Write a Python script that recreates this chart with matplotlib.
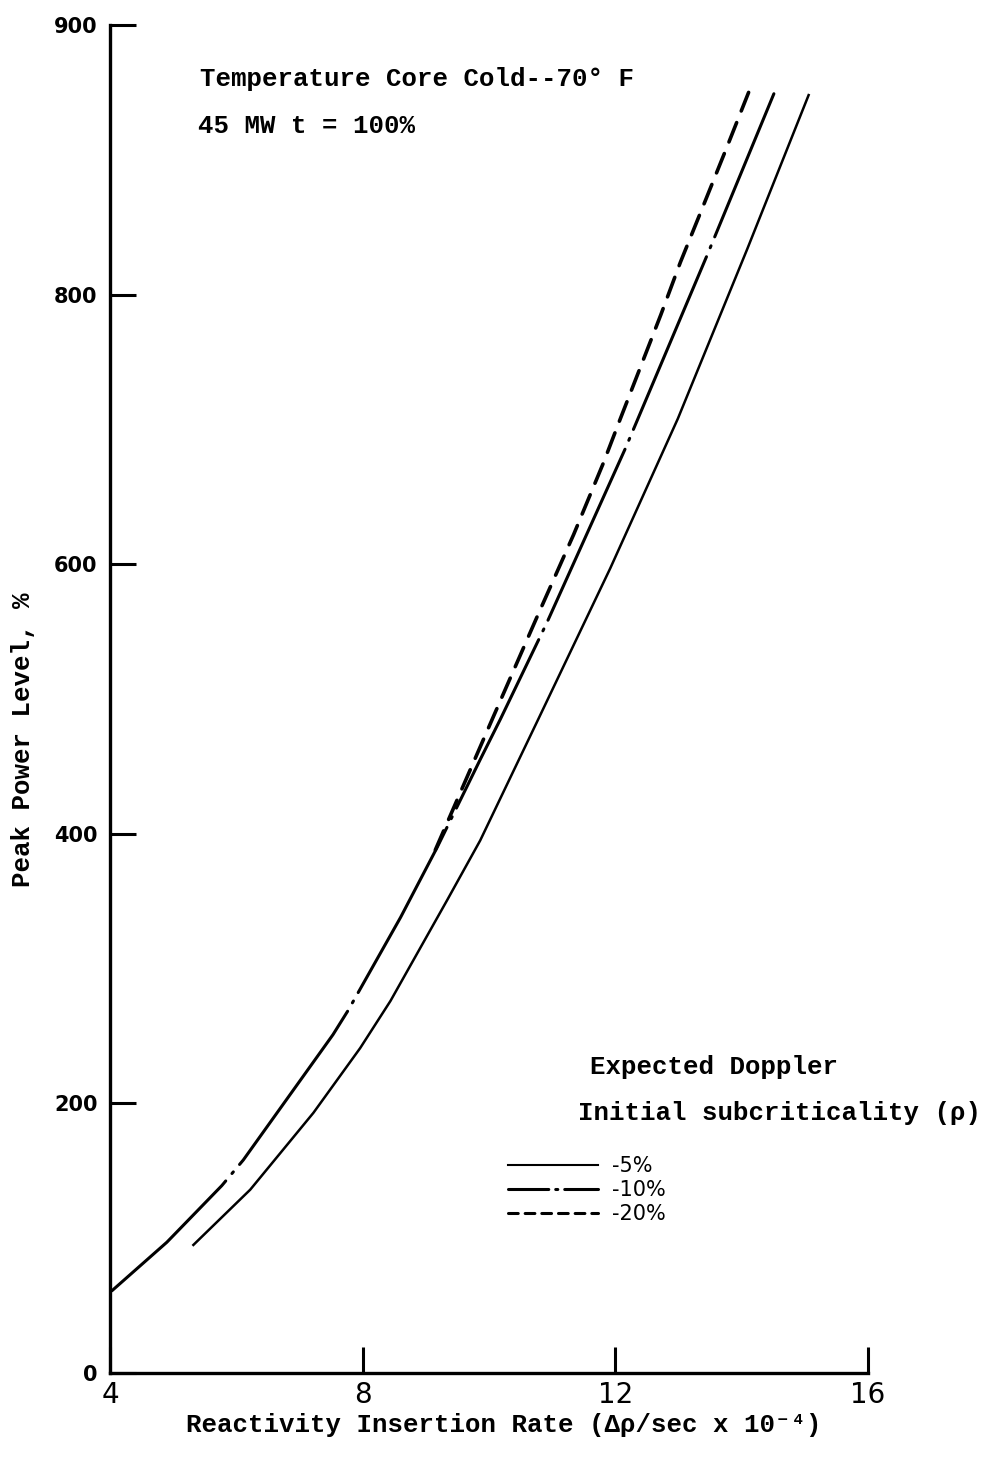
import matplotlib
matplotlib.use("Agg")
import matplotlib.pyplot as plt
from matplotlib.lines import Line2D

# odczyty z wykresu (x: szybkosc wprowadzania reaktywnosci, y: moc szczytowa %)
x_5 = [5.32, 6.22, 7.22, 7.96, 8.44, 9.34, 9.86, 10.78, 11.92, 12.99, 14.09, 15.06]
y_5 = [95, 136, 193, 241, 276, 351, 395, 485, 597, 708, 834, 948]

x_10 = [4.03, 4.90, 5.77, 6.11, 7.53, 7.77, 8.60, 9.18, 9.86, 10.18, 10.92, 12.16, 13.46, 14.51]
y_10 = [61, 97, 139, 158, 251, 269, 338, 390, 455, 485, 557, 686, 830, 949]

x_20 = [9.15, 10.07, 10.78, 11.34, 11.81, 12.08, 12.72, 13.03, 13.35, 13.78, 14.11]
y_20 = [388, 487, 563, 622, 675, 708, 785, 824, 861, 911, 950]

x_ticks = [4, 8, 12, 16]
y_ticks = [0, 200, 400, 600, 800, 1000]
y_ticklabels = ["0", "200", "400", "600", "800", "900"]

labels = ["-5%", "-10%", "-20%"]

plt.rcParams["lines.scale_dashes"] = False
typewriter = ["Liberation Mono", "DejaVu Sans Mono"]
tw_size = 18.5

fig = plt.figure(figsize=(9.87, 14.57), dpi=100)
ax = fig.add_axes([110 / 987, 84 / 1457, 758 / 987, 1348 / 1457])

ax.plot(x_5, y_5, color="black", lw=1.8)
ax.plot(x_10, y_10, color="black", lw=2.2, linestyle=(21, (135, 7, 1.5, 7)),
        dash_capstyle="round")
ax.plot(x_20, y_20, color="black", lw=2.6, dashes=(15, 9),
        dash_capstyle="round")

ax.set_xlim(4, 16)
ax.set_ylim(0, 1000)
ax.spines["top"].set_visible(False)
ax.spines["right"].set_visible(False)
ax.spines["left"].set_linewidth(2.4)
ax.spines["bottom"].set_linewidth(2.4)

ax.set_xticks(x_ticks)
ax.set_xticklabels([str(t) for t in x_ticks],
                   family=["Liberation Sans Narrow", "DejaVu Sans"], fontsize=20)
ax.set_yticks(y_ticks)
ax.set_yticklabels(y_ticklabels, family="DejaVu Sans", fontsize=15, fontweight="bold")
ax.tick_params(axis="both", direction="in", length=19, width=2.2)
ax.tick_params(axis="x", pad=6)
ax.tick_params(axis="y", pad=9)

ax.set_xlabel("Reactivity Insertion Rate (Δρ/sec x 10⁻⁴)", family=typewriter,
              fontsize=tw_size, fontweight="bold")
ax.xaxis.set_label_coords(0.52, -0.03)
ax.set_ylabel("Peak Power Level, %", family=typewriter, fontsize=tw_size,
              fontweight="bold")
ax.yaxis.set_label_coords(-0.099, 0.47)

ax.text(5.42, 955, "Temperature Core Cold--70° F", family=typewriter,
        fontsize=tw_size, fontweight="bold", va="baseline")
ax.text(5.40, 920, "45 MW t = 100%", family=typewriter,
        fontsize=tw_size, fontweight="bold", va="baseline")

ax.text(11.60, 222, "Expected Doppler", family=typewriter,
        fontsize=tw_size, fontweight="bold", va="baseline")
ax.text(11.41, 188, "Initial subcriticality (ρ)", family=typewriter,
        fontsize=tw_size, fontweight="bold", va="baseline")

handles = [
    Line2D([], [], color="black", lw=1.5),
    Line2D([], [], color="black", lw=2.2, dashes=(29, 5, 1.5, 5), dash_capstyle="round"),
    Line2D([], [], color="black", lw=2.2, dashes=(7, 5), dash_capstyle="round"),
]
ax.legend(handles, labels, loc="upper left", bbox_to_anchor=(0.525, 0.161),
          frameon=False, prop={"family": "DejaVu Sans", "size": 15},
          handlelength=4.33, handletextpad=0.67, labelspacing=0.2, borderpad=0,
          borderaxespad=0)

fig.savefig("out.png", dpi=100, facecolor="white")
